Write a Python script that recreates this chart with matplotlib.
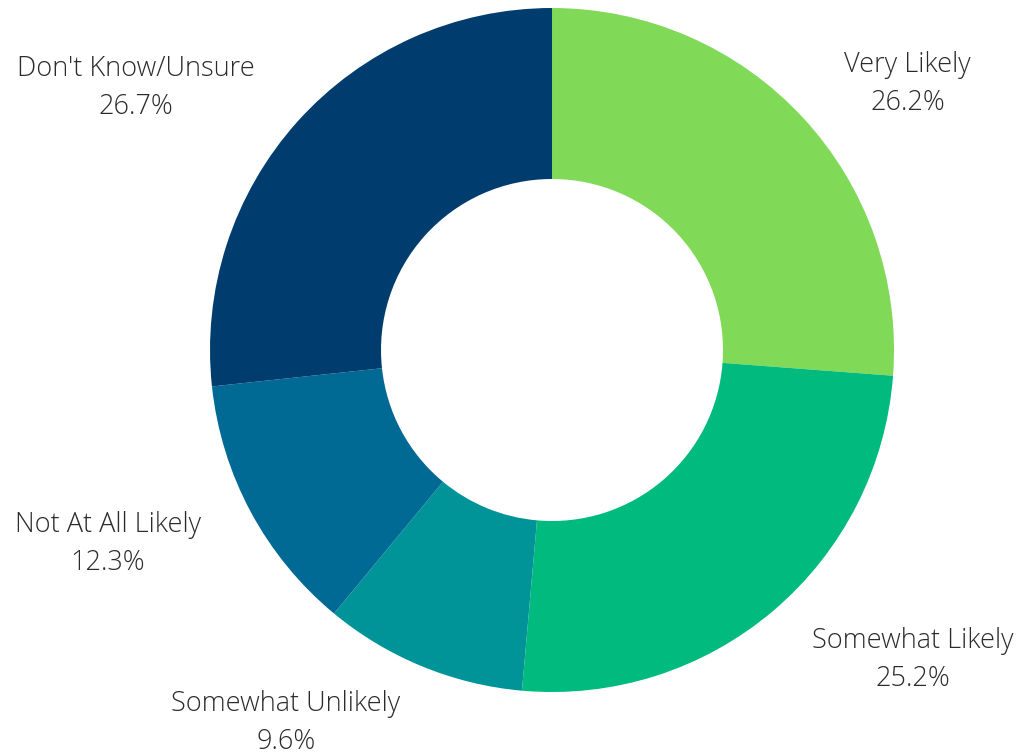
import matplotlib.pyplot as plt

# Datos del gráfico
categorias = ["Very Likely", "Somewhat Likely", "Somewhat Unlikely",
              "Not At All Likely", "Don't Know/Unsure"]
porcentajes = [26.2, 25.2, 9.6, 12.3, 26.7]
colores = ["#80d957", "#00ba7e", "#009499", "#006994", "#003d6e"]

# Posición de cada etiqueta (centro del bloque de texto, en radios)
pos_etiquetas = [(1.04, 0.778), (1.055, -0.907), (-0.778, -1.09),
                 (-1.298, -0.567), (-1.216, 0.766)]

fig = plt.figure(figsize=(10.18, 7.54), dpi=100)
ax = fig.add_axes([0.2063, 0.0822, 0.6719, 0.9072])

ax.pie(porcentajes, colors=colores, startangle=90, counterclock=False,
       radius=1.0, wedgeprops=dict(width=0.5, edgecolor="none"))

for cat, val, (x, y) in zip(categorias, porcentajes, pos_etiquetas):
    ax.text(x, y, f"{cat}\n{val:.1f}%", ha="center", va="center",
            fontsize=19.5, family=["Open Sans", "DejaVu Sans"], weight="light",
            color="#2b2b2b", linespacing=1.5, clip_on=False)

ax.set_xlim(-1, 1)
ax.set_ylim(-1, 1)
ax.set_aspect("equal")
ax.axis("off")

fig.savefig("out.png", dpi=100)
